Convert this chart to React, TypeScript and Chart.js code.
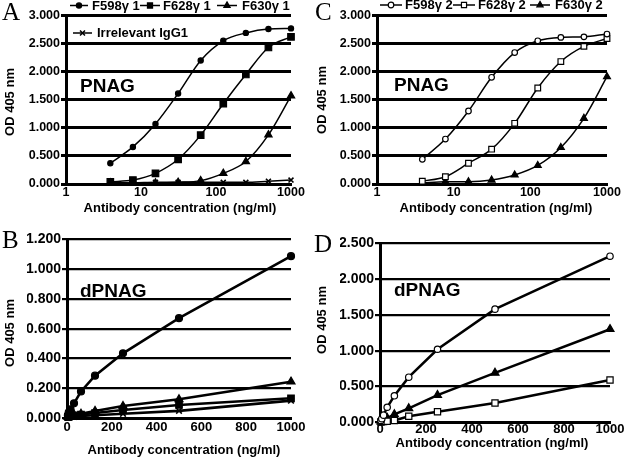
import React, { useEffect, useRef } from "react";
import { Chart, registerables } from "chart.js";

Chart.register(...registerables);
Chart.defaults.font.family = '"Liberation Sans", Arial, sans-serif';

// ---------- data ----------
const concentrations = [3.9, 7.8, 15.6, 31.25, 62.5, 125, 250, 500, 1000];
const logTicks = [1, 10, 100, 1000];

const pnagF598g1 = [0.37, 0.66, 1.07, 1.61, 2.2, 2.55, 2.69, 2.76, 2.77];
const pnagF628g1 = [0.04, 0.07, 0.19, 0.44, 0.87, 1.43, 1.95, 2.43, 2.62];
const pnagF630g1 = [0.02, 0.02, 0.02, 0.03, 0.06, 0.19, 0.4, 0.875, 1.57];
const pnagIrrelevant = [0.03, 0.02, 0.03, 0.03, 0.03, 0.03, 0.03, 0.05, 0.07];

const dpnagF598g1 = [0.02, 0.04, 0.06, 0.1, 0.18, 0.285, 0.435, 0.67, 1.085];
const dpnagF628g1 = [0.01, 0.01, 0.015, 0.02, 0.025, 0.035, 0.056, 0.089, 0.134];
const dpnagF630g1 = [0.01, 0.015, 0.02, 0.025, 0.03, 0.049, 0.082, 0.127, 0.245];
const dpnagIrrelevant = [0.005, 0.005, 0.01, 0.01, 0.015, 0.02, 0.03, 0.05, 0.118];

const pnagF598g2 = [0.44, 0.8, 1.3, 1.9, 2.34, 2.55, 2.61, 2.62, 2.67];
const pnagF628g2 = [0.05, 0.13, 0.37, 0.62, 1.08, 1.71, 2.18, 2.45, 2.59];
const pnagF630g2 = [0.02, 0.04, 0.04, 0.07, 0.16, 0.33, 0.65, 1.17, 1.91];

const dpnagF598g2 = [0.025, 0.05, 0.1, 0.21, 0.37, 0.63, 1.02, 1.58, 2.32];
const dpnagF628g2 = [0.005, 0.01, 0.012, 0.015, 0.025, 0.085, 0.148, 0.27, 0.59];
const dpnagF630g2 = [0.01, 0.015, 0.03, 0.06, 0.11, 0.195, 0.38, 0.69, 1.3];

const yTitle = "OD 405 nm";
const xTitle = "Antibody concentration (ng/ml)";

// ---------- types ----------
type Style = "circle" | "rect" | "triangle" | "crossRot";
type Series = {
  label: string;
  data: number[];
  style: Style;
  filled: boolean;
  radius: number;
  legend?: { x1: number; x2: number; tx: number; y: number };
};
type Panel = {
  letter: string;
  letterPos: [number, number];
  antigen: string;
  antigenPos: [number, number];
  area: { left: number; top: number; right: number; bottom: number };
  xType: "logarithmic" | "linear";
  xMin: number;
  xMax: number;
  xStep?: number;
  yMax: number;
  yStep: number;
  lineWidth: number;
  tension: number;
  gridWidth: number;
  yFont: number;
  xFont: number;
  xPad: number;
  yTitlePos: [number, number];
  xTitlePos: [number, number];
  series: Series[];
};

const W = 624;
const H = 461;
const Y_AXIS_W = 40;
const X_AXIS_H = 20;

const panels: Panel[] = [
  {
    letter: "A",
    letterPos: [2, 20],
    antigen: "PNAG",
    antigenPos: [80, 91.5],
    area: { left: 66, top: 15.5, right: 291, bottom: 184 },
    xType: "logarithmic",
    xMin: 1,
    xMax: 1000,
    yMax: 3,
    yStep: 0.5,
    lineWidth: 1.5,
    tension: 0.4,
    gridWidth: 3,
    yFont: 12.5,
    xFont: 12.5,
    xPad: 1,
    yTitlePos: [10, 102],
    xTitlePos: [180, 208],
    series: [
      { label: "F598\u03b3 1", data: pnagF598g1, style: "circle", filled: true, radius: 2.6, legend: { x1: 70, x2: 88, tx: 92, y: 5.5 } },
      { label: "F628\u03b3 1", data: pnagF628g1, style: "rect", filled: true, radius: 4.6, legend: { x1: 140, x2: 160, tx: 163, y: 5.5 } },
      { label: "F630\u03b3 1", data: pnagF630g1, style: "triangle", filled: true, radius: 4.2, legend: { x1: 217, x2: 237, tx: 242, y: 5.5 } },
      { label: "Irrelevant IgG1", data: pnagIrrelevant, style: "crossRot", filled: true, radius: 3.5, legend: { x1: 73, x2: 92, tx: 97, y: 33 } },
    ],
  },
  {
    letter: "B",
    letterPos: [2, 248],
    antigen: "dPNAG",
    antigenPos: [80, 296.5],
    area: { left: 67, top: 239, right: 291, bottom: 418.3 },
    xType: "linear",
    xMin: 0,
    xMax: 1000,
    xStep: 200,
    yMax: 1.2,
    yStep: 0.2,
    lineWidth: 2.6,
    tension: 0,
    gridWidth: 2.2,
    yFont: 14,
    xFont: 13,
    xPad: 1,
    yTitlePos: [10, 333],
    xTitlePos: [184, 450],
    series: [
      { label: "F598\u03b3 1", data: dpnagF598g1, style: "circle", filled: true, radius: 3.5 },
      { label: "F628\u03b3 1", data: dpnagF628g1, style: "rect", filled: true, radius: 4.6 },
      { label: "F630\u03b3 1", data: dpnagF630g1, style: "triangle", filled: true, radius: 4.6 },
      { label: "Irrelevant IgG1", data: dpnagIrrelevant, style: "crossRot", filled: true, radius: 4 },
    ],
  },
  {
    letter: "C",
    letterPos: [315, 20],
    antigen: "PNAG",
    antigenPos: [394, 91],
    area: { left: 377, top: 15.5, right: 607, bottom: 184 },
    xType: "logarithmic",
    xMin: 1,
    xMax: 1000,
    yMax: 3,
    yStep: 0.5,
    lineWidth: 1.5,
    tension: 0.4,
    gridWidth: 3,
    yFont: 12.5,
    xFont: 12.5,
    xPad: 1,
    yTitlePos: [322, 100],
    xTitlePos: [496, 208],
    series: [
      { label: "F598\u03b3 2", data: pnagF598g2, style: "circle", filled: false, radius: 2.8, legend: { x1: 380, x2: 402, tx: 405, y: 5 } },
      { label: "F628\u03b3 2", data: pnagF628g2, style: "rect", filled: false, radius: 4, legend: { x1: 453, x2: 475, tx: 478, y: 5 } },
      { label: "F630\u03b3 2", data: pnagF630g2, style: "triangle", filled: true, radius: 4, legend: { x1: 530, x2: 550, tx: 555, y: 5 } },
    ],
  },
  {
    letter: "D",
    letterPos: [314, 252],
    antigen: "dPNAG",
    antigenPos: [394, 296],
    area: { left: 380, top: 243.3, right: 610, bottom: 422.3 },
    xType: "linear",
    xMin: 0,
    xMax: 1000,
    xStep: 200,
    yMax: 2.5,
    yStep: 0.5,
    lineWidth: 2.5,
    tension: 0,
    gridWidth: 2.2,
    yFont: 14,
    xFont: 13,
    xPad: -1,
    yTitlePos: [322, 320],
    xTitlePos: [492, 443],
    series: [
      { label: "F598\u03b3 2", data: dpnagF598g2, style: "circle", filled: false, radius: 3.2 },
      { label: "F628\u03b3 2", data: dpnagF628g2, style: "rect", filled: false, radius: 4.4 },
      { label: "F630\u03b3 2", data: dpnagF630g2, style: "triangle", filled: true, radius: 4.6 },
    ],
  },
];

// ---------- drawing helpers ----------
function drawMarker(ctx: CanvasRenderingContext2D, style: Style, x: number, y: number, r: number, filled: boolean) {
  ctx.save();
  ctx.strokeStyle = "#000";
  ctx.fillStyle = filled ? "#000" : "#fff";
  ctx.lineWidth = 1.2;
  ctx.beginPath();
  if (style === "circle") {
    ctx.arc(x, y, r, 0, Math.PI * 2);
    ctx.fill();
    ctx.stroke();
  } else if (style === "rect") {
    const s = Math.SQRT1_2 * r;
    ctx.rect(x - s, y - s, 2 * s, 2 * s);
    ctx.fill();
    ctx.stroke();
  } else if (style === "triangle") {
    const a = (2 * Math.PI) / 3;
    ctx.moveTo(x, y - r);
    ctx.lineTo(x + Math.sin(a) * r, y - Math.cos(a) * r);
    ctx.lineTo(x + Math.sin(2 * a) * r, y - Math.cos(2 * a) * r);
    ctx.closePath();
    ctx.fill();
    ctx.stroke();
  } else {
    const o = Math.SQRT1_2 * r;
    ctx.lineWidth = 1.5;
    ctx.moveTo(x - o, y - o);
    ctx.lineTo(x + o, y + o);
    ctx.moveTo(x - o, y + o);
    ctx.lineTo(x + o, y - o);
    ctx.stroke();
  }
  ctx.restore();
}

function decorPlugin(p: Panel) {
  return {
    id: "decor" + p.letter,
    afterDraw(chart: any) {
      const ctx: CanvasRenderingContext2D = chart.ctx;
      ctx.save();
      ctx.fillStyle = "#000";
      ctx.textAlign = "left";
      ctx.textBaseline = "alphabetic";
      ctx.font = '25px "Liberation Serif", "Times New Roman", serif';
      ctx.fillText(p.letter, p.letterPos[0], p.letterPos[1]);
      ctx.font = 'bold 19px "Liberation Sans", Arial, sans-serif';
      ctx.fillText(p.antigen, p.antigenPos[0], p.antigenPos[1]);

      ctx.font = 'bold 13px "Liberation Sans", Arial, sans-serif';
      ctx.textAlign = "center";
      ctx.textBaseline = "middle";
      ctx.fillText(xTitle, p.xTitlePos[0], p.xTitlePos[1]);
      ctx.save();
      ctx.translate(p.yTitlePos[0], p.yTitlePos[1]);
      ctx.rotate(-Math.PI / 2);
      ctx.fillText(yTitle, 0, 0);
      ctx.restore();

      // legend
      ctx.font = 'bold 13px "Liberation Sans", Arial, sans-serif';
      ctx.textAlign = "left";
      ctx.textBaseline = "middle";
      p.series.forEach((s) => {
        if (!s.legend) return;
        const L = s.legend;
        ctx.strokeStyle = "#000";
        ctx.lineWidth = 1.5;
        ctx.beginPath();
        ctx.moveTo(L.x1, L.y);
        ctx.lineTo(L.x2, L.y);
        ctx.stroke();
        const r = Math.min(s.radius, 3.6);
        drawMarker(ctx, s.style, (L.x1 + L.x2) / 2, L.y, r, s.filled);
        ctx.fillStyle = "#000";
        ctx.fillText(s.label, L.tx, L.y + 0.5);
      });
      ctx.restore();
    },
  };
}

function buildConfig(p: Panel): any {
  const a = p.area;
  const xScale: any = {
    type: p.xType,
    min: p.xMin,
    max: p.xMax,
    grid: { display: false, drawTicks: false },
    border: { display: true, color: "#000", width: 3 },
    ticks: {
      color: "#000",
      font: { size: p.xFont, weight: "bold" },
      padding: p.xPad,
      maxRotation: 0,
      autoSkip: false,
      callback: (v: any) => String(v),
    },
    afterFit: (s: any) => {
      s.height = X_AXIS_H;
    },
  };
  if (p.xType === "logarithmic") {
    xScale.afterBuildTicks = (s: any) => {
      s.ticks = logTicks.map((v) => ({ value: v }));
    };
  } else {
    xScale.ticks.stepSize = p.xStep;
  }
  return {
    type: "line",
    data: {
      datasets: p.series.map((s) => ({
        label: s.label,
        data: concentrations.map((x, i) => ({ x, y: s.data[i] })),
        borderColor: "#000",
        backgroundColor: s.filled ? "#000" : "#fff",
        borderWidth: p.lineWidth,
        tension: p.tension,
        cubicInterpolationMode: p.tension > 0 ? "monotone" : "default",
        pointStyle: s.style,
        pointRadius: s.radius,
        pointBorderWidth: s.style === "crossRot" ? 1.6 : 1.2,
        pointBorderColor: "#000",
        pointBackgroundColor: s.filled ? "#000" : "#fff",
        fill: false,
        clip: false,
      })),
    },
    options: {
      animation: false,
      responsive: false,
      events: [],
      layout: {
        padding: {
          left: a.left - Y_AXIS_W,
          top: a.top,
          right: W - a.right,
          bottom: H - a.bottom - X_AXIS_H,
        },
      },
      plugins: { legend: { display: false }, tooltip: { enabled: false }, title: { display: false } },
      scales: {
        x: xScale,
        y: {
          type: "linear",
          min: 0,
          max: p.yMax,
          grid: { color: "#000", lineWidth: p.gridWidth, drawTicks: true, tickLength: 5 },
          border: { display: true, color: "#000", width: 3 },
          ticks: {
            stepSize: p.yStep,
            color: "#000",
            font: { size: p.yFont, weight: "bold" },
            padding: 1,
            callback: (v: any) => Number(v).toFixed(3),
          },
          afterFit: (s: any) => {
            s.width = Y_AXIS_W;
          },
        },
      },
    },
    plugins: [decorPlugin(p)],
  };
}

function PanelChart({ panel }: { panel: Panel }) {
  const ref = useRef<HTMLCanvasElement>(null);
  useEffect(() => {
    const chart = new Chart(ref.current as HTMLCanvasElement, buildConfig(panel));
    return () => chart.destroy();
  }, [panel]);
  return (
    <canvas
      ref={ref}
      width={W}
      height={H}
      style={{ position: "absolute", left: 0, top: 0, width: W, height: H }}
    />
  );
}

export default function App() {
  return (
    <div style={{ position: "absolute", left: 0, top: 0, width: W, height: H, background: "#fff", overflow: "hidden" }}>
      {panels.map((p) => (
        <PanelChart key={p.letter} panel={p} />
      ))}
    </div>
  );
}
